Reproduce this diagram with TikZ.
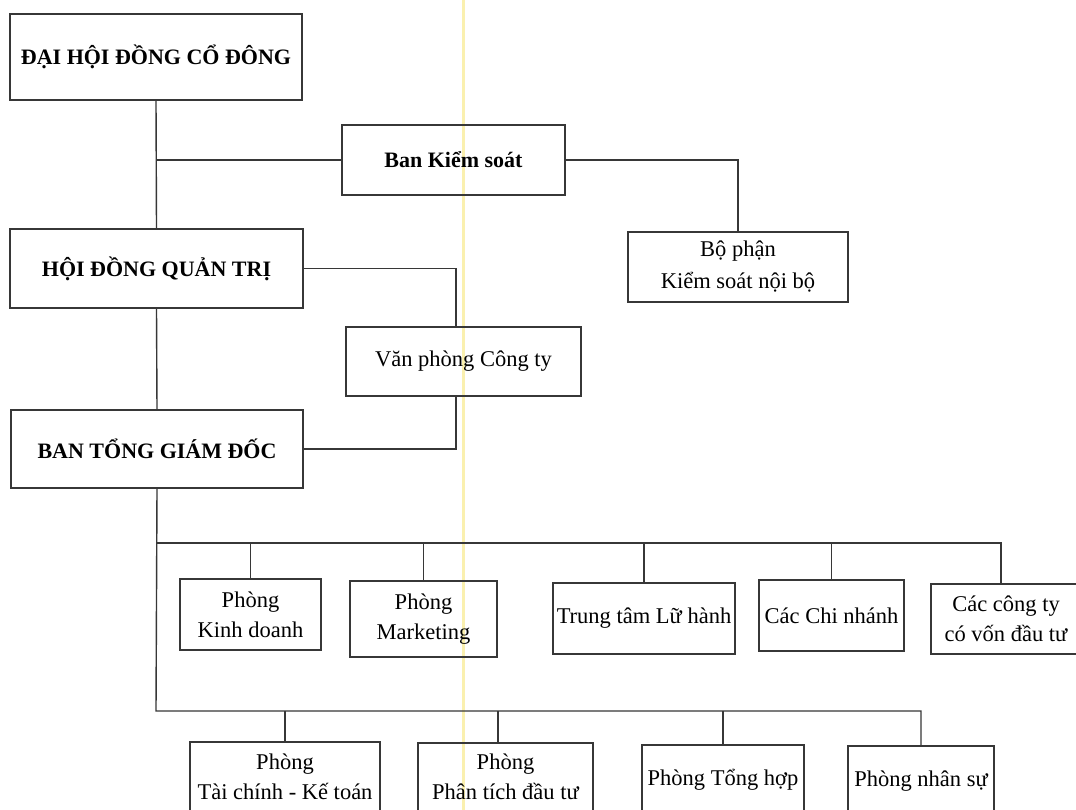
\documentclass[tikz,border=0pt]{standalone}
\usepackage{fontspec}
\setmainfont{Liberation Serif}
\begin{document}
\begin{tikzpicture}[x=1pt,y=-1pt,
  box/.style={draw=linec, line width=1.4pt, inner sep=0pt, align=center, font=\fontsize{22.5}{30}\selectfont},
  head/.style={box, font=\fontsize{22}{30}\selectfont\bfseries},
  conn/.style={draw=linec, line width=1.4pt}]
\definecolor{linec}{RGB}{55,55,55}
\definecolor{scanyellow}{RGB}{250,240,175}
\useasboundingbox (0,0) rectangle (1076,810);
\clip (0,0) rectangle (1076,810);
\fill[white] (0,0) rectangle (1076,810);
% scan artefact
\draw[scanyellow, line width=3pt] (463,0) -- (463,810);

% top levels
\node[head, minimum width=292pt, minimum height=86pt] (dhd) at (156,57) {ĐẠI HỘI ĐỒNG CỔ ĐÔNG};
\node[head, minimum width=223pt, minimum height=70pt] (bks) at (453.5,160) {Ban Kiểm soát};
\node[box, minimum width=220pt, minimum height=70pt, font=\fontsize{22.5}{32}\selectfont] (bpks) at (738,267) {Bộ phận\\Kiểm soát nội bộ};
\node[head, minimum width=293pt, minimum height=79pt] (hdqt) at (156.5,268.5) {HỘI ĐỒNG QUẢN TRỊ};
\node[box, minimum width=235pt, minimum height=69pt] (vp) at (463.5,361.5) {Văn phòng Công ty};
\node[head, minimum width=292pt, minimum height=78pt] (btgd) at (157,449) {BAN TỔNG GIÁM ĐỐC};

% upper row
\node[box, minimum width=141pt, minimum height=71pt] (pkd) at (250.5,614.5) {Phòng\\Kinh doanh};
\node[box, minimum width=147pt, minimum height=76pt] (pmk) at (423.5,619) {Phòng\\Marketing};
\node[box, minimum width=182pt, minimum height=71pt] (ttlh) at (644,618.5) {Trung tâm Lữ hành};
\node[box, minimum width=145pt, minimum height=71pt] (ccn) at (831.5,615.5) {Các Chi nhánh};
\node[box, minimum width=150pt, minimum height=70pt] (cct) at (1006,619) {Các công ty\\có vốn đầu tư};

% lower row
\node[box, minimum width=190pt, minimum height=70pt] (ptc) at (285,777) {Phòng\\Tài chính - Kế toán};
\node[box, minimum width=175pt, minimum height=68pt] (pptdt) at (505.5,777) {Phòng\\Phân tích đầu tư};
\node[box, minimum width=162pt, minimum height=70pt] (pth) at (723,780) {Phòng Tổng hợp};
\node[box, minimum width=146pt, minimum height=70pt] (pns) at (921,781) {Phòng nhân sự};

% connectors
\coordinate (j1) at (156,160);
\coordinate (bus1) at (156,543);
\coordinate (bus2) at (156,711);
\draw[conn] (dhd.south) -- (hdqt.north);
\draw[conn] (j1) -- (bks.west);
\draw[conn] (bks.east) -| (bpks.north);
\draw[conn] (hdqt.east) -| ([xshift=-7.5pt]vp.north);
\draw[conn] ([xshift=-7.5pt]vp.south) |- (btgd.east);
\draw[conn] (hdqt.south) -- (btgd.north);
\draw[conn] (btgd.south) -- (bus2) -| (pns.north);
\draw[conn] (bus1) -| ([xshift=-5pt]cct.north);
\draw[conn] (bus1 -| pkd.north) -- (pkd.north);
\draw[conn] (bus1 -| pmk.north) -- (pmk.north);
\draw[conn] (bus1 -| ttlh.north) -- (ttlh.north);
\draw[conn] (bus1 -| ccn.north) -- (ccn.north);
\draw[conn] (bus2 -| ptc.north) -- (ptc.north);
\draw[conn] ([xshift=-7.5pt]pptdt.north |- bus2) -- ([xshift=-7.5pt]pptdt.north);
\draw[conn] (bus2 -| pth.north) -- (pth.north);
\end{tikzpicture}
\end{document}
